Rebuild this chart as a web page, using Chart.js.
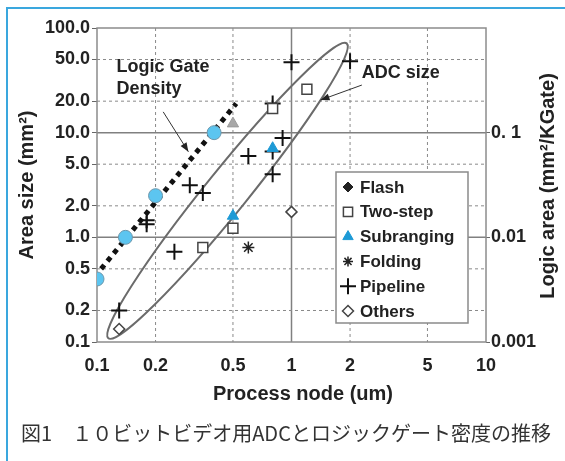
<!DOCTYPE html>
<html>
<head>
<meta charset="utf-8">
<script src="https://cdn.jsdelivr.net/npm/chart.js@4.4.1/dist/chart.umd.min.js"></script>
<style>
  body { margin: 0; background: #fff; }
  #wrap { position: relative; width: 565px; height: 461px; overflow: hidden; }
  #chart { position: absolute; left: 0; top: 0; }
  .frame { position: absolute; background: #3aa7de; }
  #caption {
    position: absolute; left: 7px; top: 422px; width: 558px;
    text-align: center; font: 20px/22px "Noto Sans CJK JP", sans-serif; color: #333;
  }
</style>
</head>
<body>
<div id="wrap">
  <div class="frame" style="left:7px;top:7px;width:558px;height:2px"></div>
  <div class="frame" style="left:6px;top:7px;width:2px;height:454px"></div>
  <canvas id="chart" width="565" height="461"></canvas>
  <div id="caption">図1　１０ビットビデオ用ADCとロジックゲート密度の推移</div>
</div>
<script>
const FONT = "'Liberation Sans', Arial, sans-serif";

// axes
const xTicks = [0.1, 0.2, 0.5, 1, 2, 5, 10];
const yTicks = [0.1, 0.2, 0.5, 1, 2, 5, 10, 20, 50, 100];
const logicTicks = [0.001, 0.01, 0.1];
const logicTickLabels = ['0.001', '0.01', '0. 1'];

// ADC area by architecture (process node um, area mm2)
const flashX = [];
const flashY = [];
const twoStepX = [0.35, 0.5, 0.8, 1.2];
const twoStepY = [0.8, 1.22, 17, 26];
const subrangingX = [0.5, 0.8];
const subrangingY = [1.6, 7.1];
const foldingX = [0.6];
const foldingY = [0.8];
const pipelineX = [0.13, 0.18, 0.18, 0.25, 0.3, 0.35, 0.6, 0.8, 0.8, 0.8, 0.9, 1.0, 2.0];
const pipelineY = [0.2, 1.33, 1.46, 0.73, 3.15, 2.65, 6.0, 4.0, 6.6, 19, 8.9, 47, 48];
const othersX = [0.13, 1.0];
const othersY = [0.133, 1.75];
const grayX = [0.5];
const grayY = [12.2];

// logic gate density
const gateX = [0.1, 0.14, 0.2, 0.4];
const gateY = [0.4, 1.0, 2.5, 10];
const gateTrendX = [0.105, 0.52];
const gateTrendY = [0.5, 19];

// "ADC size" ellipse tips (data coords)
const ellipseX = [0.1143, 1.922];
const ellipseY = [0.1085, 71.3];

const pts = (xs, ys) => xs.map((x, i) => ({ x: x, y: ys[i] }));

// grid lines, plot border and ellipse
const backdrop = {
  id: 'backdrop',
  beforeDatasetsDraw(chart) {
    const { ctx, chartArea: a, scales } = chart;
    const sx = scales.x, sy = scales.y;
    ctx.save();
    xTicks.slice(1, -1).forEach(v => {
      const px = sx.getPixelForValue(v);
      const major = v === 1;
      ctx.setLineDash(major ? [] : [3, 3]);
      ctx.strokeStyle = major ? '#808080' : '#8a8a8a';
      ctx.lineWidth = major ? 1.5 : 1;
      ctx.beginPath(); ctx.moveTo(px, a.top); ctx.lineTo(px, a.bottom); ctx.stroke();
    });
    yTicks.slice(1, -1).forEach(v => {
      const py = sy.getPixelForValue(v);
      const major = v === 1 || v === 10;
      ctx.setLineDash(major ? [] : [3, 3]);
      ctx.strokeStyle = major ? '#808080' : '#8a8a8a';
      ctx.lineWidth = major ? 1.5 : 1;
      ctx.beginPath(); ctx.moveTo(a.left, py); ctx.lineTo(a.right, py); ctx.stroke();
    });
    ctx.setLineDash([]);
    ctx.strokeStyle = '#8c8c8c';
    ctx.lineWidth = 1.5;
    ctx.strokeRect(a.left, a.top, a.right - a.left, a.bottom - a.top);

    const x1 = sx.getPixelForValue(ellipseX[0]), y1 = sy.getPixelForValue(ellipseY[0]);
    const x2 = sx.getPixelForValue(ellipseX[1]), y2 = sy.getPixelForValue(ellipseY[1]);
    const half = Math.hypot(x2 - x1, y2 - y1) / 2;
    ctx.strokeStyle = '#6b6b6b';
    ctx.lineWidth = 2;
    ctx.beginPath();
    ctx.ellipse((x1 + x2) / 2, (y1 + y2) / 2, half, 21, Math.atan2(y2 - y1, x2 - x1), 0, Math.PI * 2);
    ctx.stroke();
    ctx.restore();
  }
};

function arrow(ctx, x1, y1, x2, y2) {
  const ang = Math.atan2(y2 - y1, x2 - x1);
  ctx.beginPath(); ctx.moveTo(x1, y1); ctx.lineTo(x2, y2); ctx.stroke();
  ctx.beginPath();
  ctx.moveTo(x2, y2);
  ctx.lineTo(x2 - 9 * Math.cos(ang) + 3.5 * Math.sin(ang), y2 - 9 * Math.sin(ang) - 3.5 * Math.cos(ang));
  ctx.lineTo(x2 - 9 * Math.cos(ang) - 3.5 * Math.sin(ang), y2 - 9 * Math.sin(ang) + 3.5 * Math.cos(ang));
  ctx.closePath(); ctx.fill();
}

// labels, arrows, titles, legend
const overlay = {
  id: 'overlay',
  afterDatasetsDraw(chart) {
    const { ctx, chartArea: a, scales } = chart;
    const sx = scales.x, sy = scales.y;
    const X = v => sx.getPixelForValue(v), Y = v => sy.getPixelForValue(v);
    ctx.save();
    ctx.fillStyle = '#222';
    ctx.strokeStyle = '#333';
    ctx.lineWidth = 1;
    ctx.font = 'bold 18px ' + FONT;
    ctx.textBaseline = 'middle';
    ctx.textAlign = 'left';
    ctx.fillText('Logic Gate', X(0.126), Y(42.3));
    ctx.fillText('Density', X(0.126), Y(26.1));
    ctx.fillText('ADC size', X(2.3), Y(36.8));
    arrow(ctx, X(0.219), Y(15.8), X(0.295), Y(6.57));
    arrow(ctx, X(2.3), Y(28.5), X(1.41), Y(20.5));

    // axis titles
    ctx.font = 'bold 20px ' + FONT;
    ctx.textAlign = 'center';
    ctx.fillText('Process node (um)', 303, 394);
    ctx.save();
    ctx.translate(27, 185); ctx.rotate(-Math.PI / 2);
    ctx.fillText('Area size (mm²)', 0, 0);
    ctx.restore();
    ctx.save();
    ctx.translate(548, 186); ctx.rotate(-Math.PI / 2);
    ctx.fillText('Logic area (mm²/KGate)', 0, 0);
    ctx.restore();

    // legend inside plot
    const left = a.right - 150, top = a.top + 144, w = 132, h = 151;
    ctx.fillStyle = '#fff';
    ctx.fillRect(left, top, w, h);
    ctx.strokeStyle = '#8a8a8a';
    ctx.lineWidth = 1.5;
    ctx.strokeRect(left, top, w, h);
    ctx.font = 'bold 17px ' + FONT;
    ctx.textAlign = 'left';
    let y = top + 15;
    chart.data.datasets.filter(d => d.inLegend).forEach(d => {
      ctx.fillStyle = d.backgroundColor || '#fff';
      ctx.strokeStyle = d.borderColor;
      ctx.lineWidth = d.borderWidth;
      Chart.helpers.drawPoint(ctx, { pointStyle: d.pointStyle, radius: d.legendRadius, borderWidth: d.borderWidth, rotation: 0 }, left + 12, y);
      ctx.fillStyle = '#222';
      ctx.fillText(d.label, left + 24, y + 1);
      y += 24.8;
    });
    ctx.restore();
  }
};

const tickFont = { family: FONT, size: 18, weight: 'bold' };

new Chart(document.getElementById('chart'), {
  type: 'scatter',
  data: {
    datasets: [
      { label: 'Flash', data: pts(flashX, flashY), pointStyle: 'rectRot', pointRadius: 5, legendRadius: 5,
        backgroundColor: '#222', borderColor: '#222', borderWidth: 1, inLegend: true },
      { label: 'Two-step', data: pts(twoStepX, twoStepY), pointStyle: 'rect', pointRadius: 7, legendRadius: 6.5,
        backgroundColor: '#fff', borderColor: '#444', borderWidth: 1.5, inLegend: true },
      { label: 'Subranging', data: pts(subrangingX, subrangingY), pointStyle: 'triangle', pointRadius: 6.5, legendRadius: 6,
        backgroundColor: '#1d9ad6', borderColor: '#1d9ad6', borderWidth: 1, inLegend: true },
      { label: 'Folding', data: pts(foldingX, foldingY), pointStyle: 'star', pointRadius: 6, legendRadius: 5,
        backgroundColor: '#222', borderColor: '#222', borderWidth: 1.5, inLegend: true },
      { label: 'Pipeline', data: pts(pipelineX, pipelineY), pointStyle: 'cross', pointRadius: 8, legendRadius: 8,
        backgroundColor: '#111', borderColor: '#111', borderWidth: 2, inLegend: true },
      { label: 'Others', data: pts(othersX, othersY), pointStyle: 'rectRot', pointRadius: 5.5, legendRadius: 5.5,
        backgroundColor: '#fff', borderColor: '#444', borderWidth: 1.5, inLegend: true },
      { label: 'Logic gate density', data: pts(gateX, gateY), pointStyle: 'circle', pointRadius: 7,
        backgroundColor: '#5cc5f0', borderColor: '#6d97ab', borderWidth: 1 },
      { label: 'Subranging (gray)', data: pts(grayX, grayY), pointStyle: 'triangle', pointRadius: 6.5,
        backgroundColor: '#a8a8a8', borderColor: '#9a9a9a', borderWidth: 1 },
      { label: 'Gate trend', data: pts(gateTrendX, gateTrendY), showLine: true, pointRadius: 0,
        borderColor: '#111', borderWidth: 5, borderDash: [5, 5] }
    ]
  },
  options: {
    responsive: false,
    animation: false,
    devicePixelRatio: 1,
    layout: { padding: { top: 28, left: 0, right: 0, bottom: 0 } },
    plugins: { legend: { display: false }, tooltip: { enabled: false } },
    scales: {
      x: {
        type: 'logarithmic', min: 0.1, max: 10,
        afterBuildTicks: s => { s.ticks = xTicks.map(v => ({ value: v })); },
        afterFit: s => { s.height = 119; },
        ticks: { callback: v => String(v), font: tickFont, color: '#222', padding: 13, maxRotation: 0, autoSkip: false },
        grid: { drawOnChartArea: false, drawTicks: false },
        border: { display: false }
      },
      y: {
        type: 'logarithmic', position: 'left', min: 0.1, max: 100,
        afterBuildTicks: s => { s.ticks = yTicks.map(v => ({ value: v })); },
        afterFit: s => { s.width = 97; },
        ticks: { callback: v => Number(v).toFixed(1), font: tickFont, color: '#222', padding: 2, autoSkip: false },
        grid: { drawOnChartArea: false, tickLength: 5, tickColor: '#666' },
        border: { display: false }
      },
      y2: {
        type: 'logarithmic', position: 'right', min: 0.001, max: 1,
        afterBuildTicks: s => { s.ticks = logicTicks.map(v => ({ value: v })); },
        afterFit: s => { s.width = 79; },
        ticks: { callback: (v, i) => logicTickLabels[i], font: tickFont, color: '#222', padding: 1, autoSkip: false },
        grid: { drawOnChartArea: false, tickLength: 4, tickColor: '#666' },
        border: { display: false }
      }
    }
  },
  plugins: [backdrop, overlay]
});
</script>
</body>
</html>
